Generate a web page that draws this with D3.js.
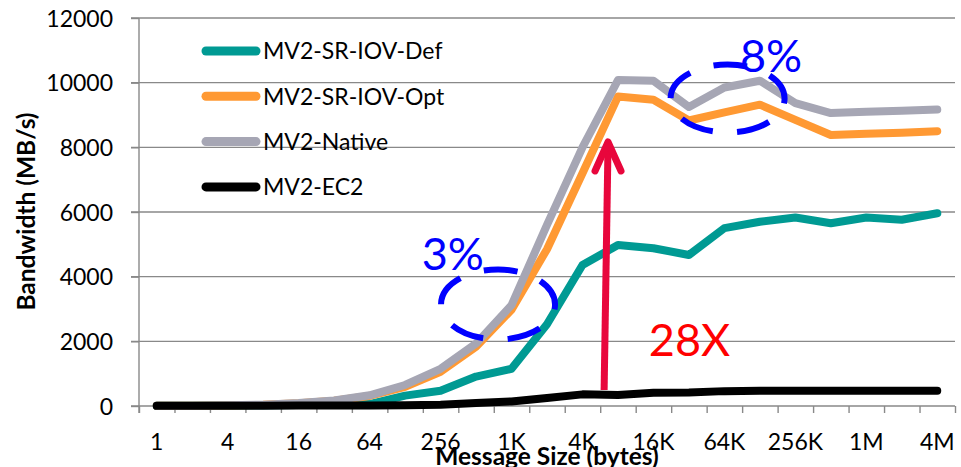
<!DOCTYPE html>
<html>
<head>
<meta charset="utf-8">
<script src="https://cdn.jsdelivr.net/npm/d3@7/dist/d3.min.js"></script>
<style>
  body { margin: 0; background: #fff; }
  svg { display: block; font-family: Lato, "Open Sans", sans-serif; }
</style>
</head>
<body>
<svg id="chart" width="961" height="467"></svg>
<script>
// message sizes (x categories) and the labels shown under the axis
const sizes = ["1","2","4","8","16","32","64","128","256","512","1K","2K","4K","8K","16K","32K","64K","128K","256K","512K","1M","2M","4M"];
const shownLabels = sizes.filter((d, i) => i % 2 === 0);
const yTicks = [0, 2000, 4000, 6000, 8000, 10000, 12000];

// bandwidth values (MB/s)
const bwDef    = [4, 8, 14, 22, 32, 45, 60, 320, 470, 910, 1150, 2530, 4360, 4980, 4880, 4670, 5500, 5700, 5830, 5650, 5830, 5760, 5960];
const bwOpt    = [5, 10, 19, 38, 85, 160, 310, 590, 1060, 1830, 2980, 4850, 7200, 9570, 9470, 8830, 9080, 9320, 8850, 8380, 8420, 8450, 8500];
const bwNative = [5, 10, 20, 40, 90, 170, 330, 650, 1150, 1930, 3120, 5600, 8000, 10080, 10060, 9250, 9850, 10060, 9370, 9060, 9100, 9130, 9170];
const bwEC2    = [4, 6, 8, 10, 12, 15, 18, 22, 40, 95, 140, 250, 360, 340, 410, 420, 460, 470, 470, 470, 475, 475, 470];

const seriesNames = ["MV2-SR-IOV-Def", "MV2-SR-IOV-Opt", "MV2-Native", "MV2-EC2"];
const seriesColors = ["#009A93", "#FF9933", "#A6A6B4", "#000000"];
const seriesValues = [bwDef, bwOpt, bwNative, bwEC2];

const svg = d3.select("#chart");

let x = d3.scaleBand().domain(sizes).range([139, 955]);
let y = d3.scaleLinear().domain([0, 12000]).range([406, 18]);
// position at a fractional category index (for annotations)
let xf = f => x.range()[0] + x.step() * (f + 0.5);
let xc = s => x(s) + x.bandwidth() / 2;

let gridColor = "#898989";

// gridlines
svg.append("g")
    .selectAll("line")
    .data(yTicks.filter(d => d > 0))
    .enter().append("line")
    .attr("x1", 131).attr("x2", 955)
    .attr("y1", d => y(d)).attr("y2", d => y(d))
    .attr("stroke", gridColor)
    .attr("stroke-width", 1.4);

// y axis
let yAxis = svg.append("g")
    .attr("transform", "translate(139,0)")
    .call(d3.axisLeft(y).tickValues(yTicks).tickFormat(d3.format("d")).tickSize(8).tickPadding(18));
yAxis.select(".domain").attr("stroke", gridColor).attr("stroke-width", 1.4)
    .attr("d", "M0,18V413");
yAxis.selectAll(".tick line").attr("stroke", gridColor).attr("stroke-width", 1.4);
yAxis.selectAll("text").attr("font-size", 23).attr("font-family", "Lato").attr("fill", "#000").attr("dy", "0.36em");

// x axis: boundary ticks
let xEdge = d3.scaleLinear().domain([0, sizes.length]).range(x.range());
let xAxisEdges = svg.append("g")
    .attr("transform", "translate(0,406)")
    .call(d3.axisBottom(xEdge).tickValues(d3.range(sizes.length + 1)).tickSize(7).tickFormat(""));
xAxisEdges.select(".domain").attr("stroke", gridColor).attr("stroke-width", 1.4)
    .attr("d", "M131,0H955");
xAxisEdges.selectAll(".tick line").attr("stroke", gridColor).attr("stroke-width", 1.4);

// x axis labels
let xAxisLabels = svg.append("g")
    .attr("transform", "translate(0,406)")
    .call(d3.axisBottom(x).tickValues(shownLabels).tickSize(0));
xAxisLabels.select(".domain").remove();
xAxisLabels.selectAll("text").attr("font-size", 23).attr("font-family", "Lato").attr("fill", "#000")
    .attr("y", 43.5).attr("dy", 0);

// axis titles
svg.append("text")
    .attr("x", 547).attr("y", 464.5)
    .attr("text-anchor", "middle")
    .attr("font-size", 24.5).attr("font-weight", "bold")
    .text("Message Size (bytes)");

svg.append("text")
    .attr("transform", "translate(34.5,211.5) rotate(-90)")
    .attr("text-anchor", "middle")
    .attr("font-size", 24.5).attr("font-weight", "bold")
    .text("Bandwidth (MB/s)");

// lines
let line = d3.line()
    .x((d, i) => xc(sizes[i]))
    .y(d => y(d));

svg.append("g")
    .selectAll("path")
    .data(seriesValues)
    .enter().append("path")
    .attr("d", d => line(d))
    .attr("fill", "none")
    .attr("stroke", (d, i) => seriesColors[i])
    .attr("stroke-width", 8)
    .attr("stroke-linecap", "round")
    .attr("stroke-linejoin", "round");

// legend
let legend = svg.append("g")
    .selectAll("g")
    .data(seriesNames)
    .enter().append("g")
    .attr("transform", (d, i) => `translate(0, ${51 + i * 45.3})`);
legend.append("line")
    .attr("x1", 206).attr("x2", 256)
    .attr("stroke", (d, i) => seriesColors[i])
    .attr("stroke-width", 9)
    .attr("stroke-linecap", "round");
legend.append("text")
    .attr("x", 263).attr("y", 8.2)
    .attr("font-size", 23)
    .text(d => d);

// annotations
let blue = "#0000FF";
function dashedEllipse(cx, cy, rx, ry) {
    let e = svg.append("ellipse")
        .attr("cx", cx).attr("cy", cy)
        .attr("rx", rx).attr("ry", ry)
        .attr("fill", "none").attr("stroke", blue).attr("stroke-width", 6);
    // five dashes round the ellipse
    let period = e.node().getTotalLength() / 5;
    let dash = period * 0.58;
    e.attr("stroke-dasharray", `${dash},${period - dash}`)
        .attr("stroke-dashoffset", dash - 5);
}
dashedEllipse(xf(9.62), y(3140), 57, 35);
dashedEllipse(xf(16.09), y(9511), 57, 34);

svg.append("text")
    .attr("x", xf(7.47)).attr("y", y(4207))
    .attr("font-size", 45).attr("fill", blue)
    .text("3%");
svg.append("text")
    .attr("x", xf(16.44)).attr("y", y(10330))
    .attr("font-size", 45).attr("fill", blue)
    .text("8%");

let red = "#E8063C";
let arrowBottom = [xf(12.61), y(495)];
let arrowTip = [xf(12.72), y(8166)];
svg.append("line")
    .attr("x1", arrowBottom[0]).attr("y1", arrowBottom[1])
    .attr("x2", arrowTip[0]).attr("y2", arrowTip[1] + 3)
    .attr("stroke", red).attr("stroke-width", 7);
svg.append("path")
    .attr("d", `M${arrowTip[0] - 13},${arrowTip[1] + 29}L${arrowTip[0]},${arrowTip[1]}L${arrowTip[0] + 13},${arrowTip[1] + 29}`)
    .attr("fill", "none").attr("stroke", red).attr("stroke-width", 7)
    .attr("stroke-linecap", "round").attr("stroke-linejoin", "round");

svg.append("text")
    .attr("x", xf(13.87)).attr("y", y(1547))
    .attr("font-size", 45).attr("fill", "#FF0000")
    .text("28X");
</script>
</body>
</html>
